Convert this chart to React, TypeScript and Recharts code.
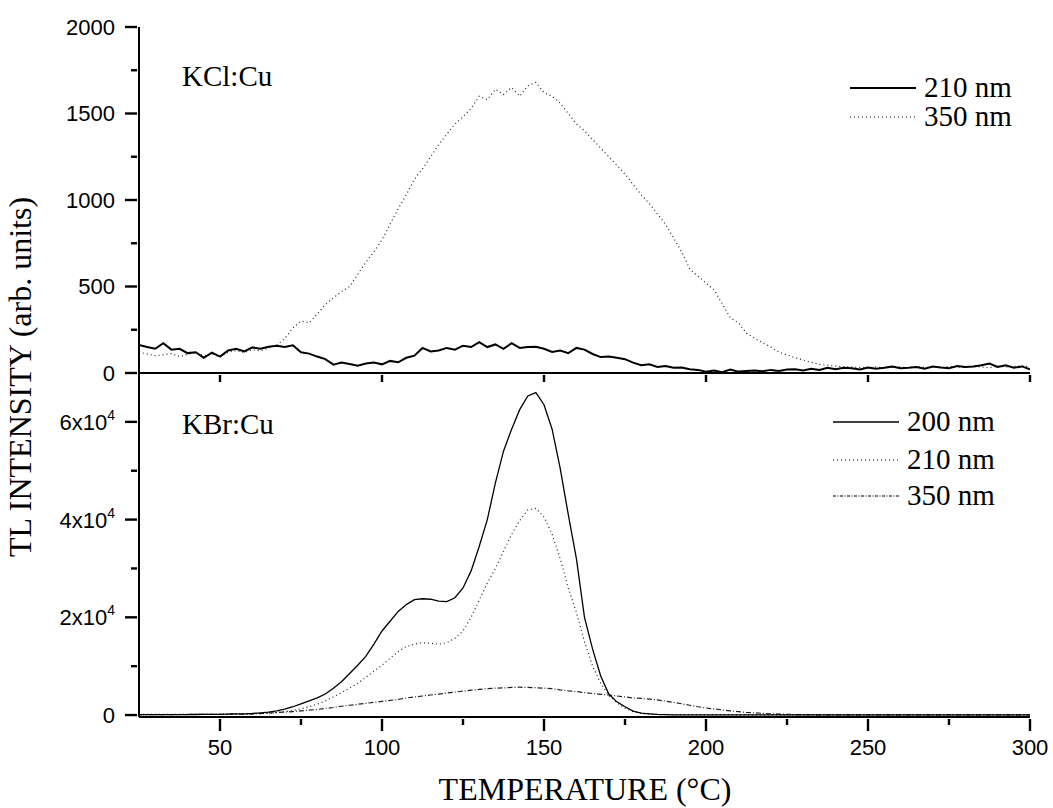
import React from "react";
import { LineChart, Line, XAxis, YAxis } from "recharts";

// temperature (°C), 2.5 degree steps
const temps = [
  25, 27.5, 30, 32.5, 35, 37.5, 40, 42.5, 45, 47.5,
  50, 52.5, 55, 57.5, 60, 62.5, 65, 67.5, 70, 72.5,
  75, 77.5, 80, 82.5, 85, 87.5, 90, 92.5, 95, 97.5,
  100, 102.5, 105, 107.5, 110, 112.5, 115, 117.5, 120, 122.5,
  125, 127.5, 130, 132.5, 135, 137.5, 140, 142.5, 145, 147.5,
  150, 152.5, 155, 157.5, 160, 162.5, 165, 167.5, 170, 172.5,
  175, 177.5, 180, 182.5, 185, 187.5, 190, 192.5, 195, 197.5,
  200, 202.5, 205, 207.5, 210, 212.5, 215, 217.5, 220, 222.5,
  225, 227.5, 230, 232.5, 235, 237.5, 240, 242.5, 245, 247.5,
  250, 252.5, 255, 257.5, 260, 262.5, 265, 267.5, 270, 272.5,
  275, 277.5, 280, 282.5, 285, 287.5, 290, 292.5, 295, 297.5,
  300,
];

// KCl:Cu
const kcl210 = [
  162, 150, 140, 172, 135, 140, 115, 120, 88, 118,
  95, 130, 140, 125, 148, 140, 152, 158, 150, 160,
  120, 112, 95, 80, 48, 60, 52, 42, 55, 60,
  50, 70, 62, 88, 100, 145, 125, 130, 145, 135,
  158, 150, 178, 150, 165, 140, 172, 145, 150, 152,
  140, 122, 130, 115, 145, 135, 110, 92, 95, 88,
  80, 60, 45, 50, 35, 40, 30, 32, 22, 18,
  8, 15, 5, 20, 8, 12, 15, 10, 18, 12,
  20, 22, 15, 25, 18, 30, 22, 30, 28, 20,
  32, 25, 30, 38, 28, 30, 35, 25, 38, 32,
  28, 40, 35, 38, 45, 55, 35, 45, 30, 38,
  22,
];
const kcl350 = [
  121, 110, 100, 105, 112, 95, 108, 118, 100, 110,
  92, 120, 130, 118, 135, 128, 145, 160, 200, 260,
  300, 290, 340, 395, 435, 470, 500, 570, 640, 700,
  770, 860, 950, 1030, 1120, 1180, 1250, 1320, 1380, 1440,
  1480, 1530, 1600, 1580, 1640, 1610, 1650, 1600, 1660, 1680,
  1620, 1600, 1560, 1500, 1440, 1400, 1350, 1300, 1250, 1200,
  1150, 1090, 1030, 980, 920, 860, 780, 700, 600, 560,
  520, 480, 400, 320, 290, 230, 200, 175, 150, 120,
  105, 88, 75, 62, 50, 45, 40, 35, 35, 32,
  30, 35, 30, 32, 35, 30, 38, 32, 35, 30,
  38, 35, 32, 38, 35, 30, 40, 35, 38, 42,
  35,
];

// KBr:Cu
const kbr200 = [
  100, 100, 100, 100, 100, 100, 100, 110, 120, 130,
  150, 180, 220, 260, 320, 450, 600, 850, 1200, 1700,
  2300, 2900, 3500, 4300, 5500, 6800, 8500, 10200, 12000, 14500,
  17200, 19200, 21200, 22600, 23600, 23800, 23700, 23300, 23200, 24000,
  26000, 29500, 34500, 40000, 47500, 54000, 58500, 62500, 65300, 66000,
  63500, 58500, 50500, 41000, 32000, 20000, 13500, 8000, 4300, 2700,
  1700, 800, 400, 250, 120, 80, 50, 40, 30, 30,
  20, 20, 20, 20, 20, 20, 20, 20, 20, 20,
  20, 20, 20, 20, 20, 20, 20, 20, 20, 20,
  20, 20, 20, 20, 20, 20, 20, 20, 20, 20,
  20, 20, 20, 20, 20, 20, 20, 20, 20, 20,
  20,
];
const kbr210 = [
  150, 150, 150, 150, 150, 150, 150, 150, 150, 160,
  170, 180, 200, 220, 250, 300, 400, 520, 700, 950,
  1300, 1700, 2200, 2900, 3700, 4600, 5500, 6500, 7700, 9000,
  10200, 11600, 13000, 14000, 14500, 14800, 14700, 14500, 14800, 15700,
  17200, 20000, 23500, 27000, 30000, 33500, 37000, 39800, 42000, 42300,
  40500, 37000, 32000, 26000, 21000, 15000, 10000, 6500, 4000, 2500,
  1400, 700, 350, 200, 100, 80, 60, 50, 50, 50,
  50, 50, 50, 50, 50, 50, 50, 50, 50, 50,
  50, 50, 50, 50, 50, 50, 50, 50, 50, 50,
  50, 50, 50, 50, 50, 50, 50, 50, 50, 50,
  50, 50, 50, 50, 50, 50, 50, 50, 50, 50,
  50,
];
const kbr350 = [
  100, 100, 100, 100, 100, 110, 120, 130, 140, 150,
  160, 170, 180, 200, 250, 300, 400, 500, 600, 720,
  850, 1000, 1150, 1350, 1550, 1800, 2000, 2200, 2400, 2600,
  2800, 3000, 3200, 3500, 3700, 3900, 4100, 4300, 4500, 4700,
  4900, 5100, 5250, 5400, 5500, 5550, 5650, 5700, 5650, 5600,
  5500, 5400, 5150, 4950, 4800, 4600, 4400, 4250, 4100, 3900,
  3700, 3500, 3400, 3250, 3100, 2850, 2600, 2300, 2000, 1700,
  1450, 1250, 1050, 850, 700, 550, 450, 350, 270, 200,
  150, 100, 80, 60, 50, 50, 50, 50, 50, 50,
  50, 50, 50, 50, 50, 50, 50, 50, 50, 50,
  50, 50, 50, 50, 50, 50, 50, 50, 50, 50,
  50,
];

const xTicks = [50, 75, 100, 125, 150, 175, 200, 225, 250, 275, 300];
const xMajor = [50, 100, 150, 200, 250, 300];
const topYTicks = [0, 250, 500, 750, 1000, 1250, 1500, 1750, 2000];
const topYMajor = [0, 500, 1000, 1500, 2000];
const botYTicks = [0, 10000, 20000, 30000, 40000, 50000, 60000];
const botYMajor = [0, 20000, 40000, 60000];

const topData = temps.map((t, i) => ({ t, a: kcl210[i], b: kcl350[i] }));
const botData = temps.map((t, i) => ({ t, a: kbr200[i], b: kbr210[i], c: kbr350[i] }));

const sans = "'Liberation Sans', Arial, sans-serif";
const serif = "'Liberation Serif', 'Times New Roman', serif";
const axisLine = { stroke: "#000", strokeWidth: 2 };

const sciLabel = (v: number) => {
  if (v === 0) return <tspan>0</tspan>;
  return (
    <>
      <tspan>{v / 10000}x10</tspan>
      <tspan dy={-10} fontSize={14}>4</tspan>
    </>
  );
};

// tick renderers: side says where the tick line goes
const makeTick =
  (side: string, majors: number[], label?: (v: number) => React.ReactNode) =>
  (p: any) => {
    const { x, y, payload } = p;
    const v = payload.value;
    const major = majors.includes(v);
    const len = major ? 12 : 6;
    const s = { stroke: "#000", strokeWidth: 2.4 };
    if (side === "left") {
      return (
        <g>
          <line x1={x - len} x2={x} y1={y} y2={y} {...s} />
          {major && label && (
            <text x={x - 22} y={y} dy="0.36em" textAnchor="end" fontFamily={sans} fontSize={22} fill="#000">
              {label(v)}
            </text>
          )}
        </g>
      );
    }
    if (side === "right") return <line x1={x - len} x2={x} y1={y} y2={y} {...s} />;
    if (side === "top") return <line x1={x} x2={x} y1={y} y2={y + 7} {...s} />;
    // bottom
    return (
      <g>
        <line x1={x} x2={x} y1={y} y2={y + (label ? len : 7)} {...s} />
        {major && label && (
          <text x={x} y={y + 36} textAnchor="middle" fontFamily={sans} fontSize={22} fill="#000">
            {label(v)}
          </text>
        )}
      </g>
    );
  };

const LegendRow = ({ x, y, dash, w, text }: any) => (
  <g>
    <line x1={x} x2={x + 66} y1={y} y2={y} stroke="#000" strokeWidth={w} strokeDasharray={dash} />
    <text x={x + 74} y={y + 9} fontFamily={serif} fontSize={29} fill="#000">
      {text}
    </text>
  </g>
);

export default function App() {
  return (
    <div style={{ position: "absolute", left: 0, top: 0, width: 1053, height: 808, background: "#fff" }}>
      <div style={{ position: "absolute", left: 0, top: 0 }}>
        <LineChart width={1053} height={390} data={topData} margin={{ top: 27, right: 23, bottom: 0, left: 0 }}>
          <XAxis
            xAxisId={0}
            type="number"
            dataKey="t"
            domain={[25, 300]}
            ticks={xMajor}
            interval={0}
            height={17}
            axisLine={axisLine}
            tickLine={false}
            tickSize={0}
            tick={makeTick("bottom", xMajor)}
            allowDataOverflow
          />
          <XAxis
            xAxisId="top"
            orientation="top"
            type="number"
            domain={[25, 300]}
            ticks={xMajor}
            interval={0}
            height={0}
            axisLine={axisLine}
            tickLine={false}
            tickSize={0}
            tick={makeTick("top", xMajor)}
            allowDataOverflow
          />
          <YAxis
            yAxisId={0}
            type="number"
            domain={[0, 2000]}
            ticks={topYTicks}
            interval={0}
            width={139}
            axisLine={axisLine}
            tickLine={false}
            tickSize={0}
            tick={makeTick("left", topYMajor, (v) => <tspan>{v}</tspan>)}
            allowDataOverflow
          />
          <YAxis
            yAxisId="right"
            orientation="right"
            type="number"
            domain={[0, 2000]}
            ticks={topYTicks}
            interval={0}
            width={0}
            axisLine={axisLine}
            tickLine={false}
            tickSize={0}
            tick={makeTick("right", topYMajor)}
            allowDataOverflow
          />
          <Line dataKey="b" stroke="#222" strokeWidth={1.2} strokeDasharray="1 3" dot={false} isAnimationActive={false} />
          <Line dataKey="a" stroke="#000" strokeWidth={2} dot={false} isAnimationActive={false} />
        </LineChart>
      </div>

      <div style={{ position: "absolute", left: 0, top: 373 }}>
        <LineChart width={1053} height={435} data={botData} margin={{ top: 0, right: 23, bottom: 0, left: 0 }}>
          <XAxis
            xAxisId={0}
            type="number"
            dataKey="t"
            domain={[25, 300]}
            ticks={xTicks}
            interval={0}
            height={91}
            axisLine={axisLine}
            tickLine={false}
            tickSize={0}
            tick={makeTick("bottom", xMajor, (v) => <tspan>{v}</tspan>)}
            allowDataOverflow
          />
          <YAxis
            yAxisId={0}
            type="number"
            domain={[-400, 70000]}
            ticks={botYTicks}
            interval={0}
            width={139}
            axisLine={axisLine}
            tickLine={false}
            tickSize={0}
            tick={makeTick("left", botYMajor, sciLabel)}
            allowDataOverflow
          />
          <YAxis
            yAxisId="right"
            orientation="right"
            type="number"
            domain={[-400, 70000]}
            ticks={botYTicks}
            interval={0}
            width={0}
            axisLine={axisLine}
            tickLine={false}
            tickSize={0}
            tick={makeTick("right", botYMajor)}
            allowDataOverflow
          />
          <Line dataKey="c" stroke="#222" strokeWidth={1.2} strokeDasharray="5 2 1 2" dot={false} isAnimationActive={false} />
          <Line dataKey="b" stroke="#222" strokeWidth={1.2} strokeDasharray="1 3" dot={false} isAnimationActive={false} />
          <Line dataKey="a" stroke="#000" strokeWidth={1.3} dot={false} isAnimationActive={false} />
        </LineChart>
      </div>

      <svg width={1053} height={808} style={{ position: "absolute", left: 0, top: 0, pointerEvents: "none" }}>
        <text x={182} y={86} fontFamily={serif} fontSize={29} fill="#000">KCl:Cu</text>
        <text x={182} y={434} fontFamily={serif} fontSize={29} fill="#000">KBr:Cu</text>

        <LegendRow x={850} y={88} w={2} text="210 nm" />
        <LegendRow x={850} y={117} w={1.2} dash="1 3" text="350 nm" />

        <LegendRow x={833} y={422} w={1.3} text="200 nm" />
        <LegendRow x={833} y={460} w={1.2} dash="1 3" text="210 nm" />
        <LegendRow x={833} y={496} w={1.2} dash="3 1.5 1 1.5" text="350 nm" />

        <text
          x={0}
          y={0}
          transform="translate(31,377) rotate(-90)"
          textAnchor="middle"
          fontFamily={serif}
          fontSize={32}
          fill="#000"
        >
          TL INTENSITY (arb. units)
        </text>
        <text x={585} y={800} textAnchor="middle" fontFamily={serif} fontSize={32} fill="#000">
          TEMPERATURE (°C)
        </text>
      </svg>
    </div>
  );
}
